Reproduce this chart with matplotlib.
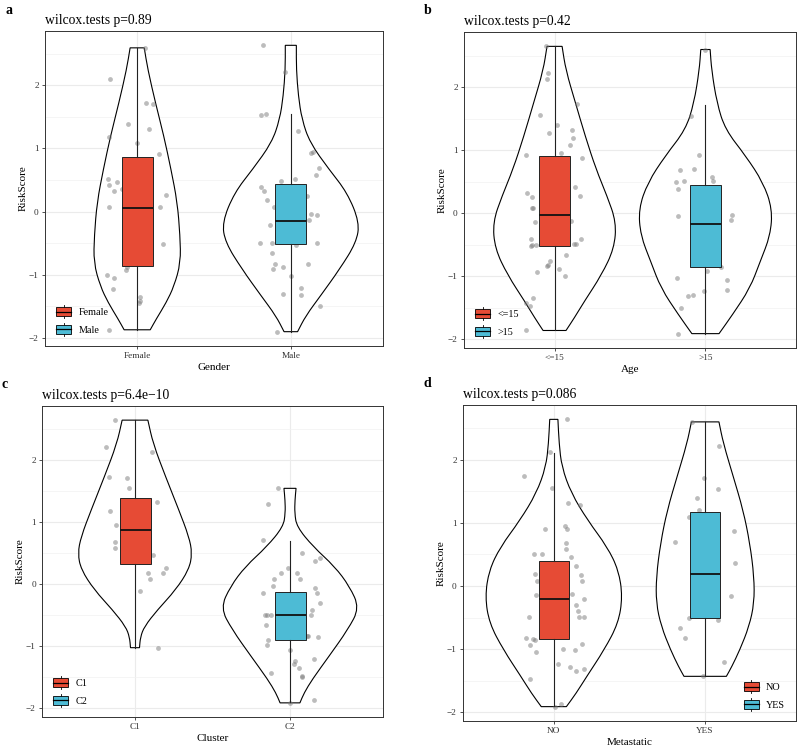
import matplotlib
matplotlib.use("Agg")
import matplotlib.pyplot as plt
import numpy as np
from matplotlib.patches import Patch, Rectangle, PathPatch
from matplotlib.path import Path
from matplotlib.lines import Line2D
from matplotlib.legend_handler import HandlerBase

plt.rcParams['font.family'] = ['Liberation Serif', 'DejaVu Serif']

red = '#E64B35'
blue = '#4DBBD5'

# ---- panel a : Gender ----
female_dx = [0.054, -0.179, 0.058, 0.106, -0.060, 0.076, -0.184, -0.004, 0.143, -0.192, -0.181, -0.130,
             -0.149, 0.188, -0.100, -0.184, 0.149, 0.166, -0.069, -0.076, -0.197, -0.151, -0.158, 0.019,
             0.013, 0.020, -0.186]
female_y = [2.59, 2.10, 1.72, 1.70, 1.39, 1.31, 1.18, 1.09, 0.91, 0.51, 0.42, 0.46,
            0.32, 0.26, 0.36, 0.08, 0.07, -0.51, -0.87, -0.93, -1.00, -1.05, -1.23, -1.35,
            -1.44, -1.42, -1.87]
female_box = [-1.87, -0.854, 0.063, 0.86, 2.59]  # whislo, q1, med, q3, whishi
female_vy = [2.59, 2.25, 1.72, 1.20, 0.67, 0.15, -0.38, -0.81, -1.18, -1.44, -1.70, -1.87]
female_vw = [0.046, 0.069, 0.119, 0.173, 0.220, 0.261, 0.279, 0.283, 0.240, 0.189, 0.124, 0.085]

male_dx = [-0.181, -0.041, -0.197, -0.160, 0.048, 0.134, 0.143, 0.181, 0.166, -0.065, 0.028, -0.194,
           -0.173, -0.156, -0.108, 0.108, 0.130, 0.173, 0.121, -0.134, -0.199, -0.123, 0.035, 0.168,
           -0.125, -0.104, -0.048, -0.119, 0.110, -0.002, 0.069, -0.054, 0.065, 0.190, -0.089]
male_y = [2.63, 2.21, 1.53, 1.55, 1.27, 0.92, 0.95, 0.69, 0.58, 0.48, 0.51, 0.39,
          0.32, 0.18, 0.08, 0.25, -0.04, -0.05, -0.13, -0.22, -0.49, -0.49, -0.53, -0.50,
          -0.66, -0.83, -0.88, -0.91, -0.83, -1.02, -1.21, -1.30, -1.32, -1.50, -1.90]
male_box = [-1.90, -0.51, -0.15, 0.43, 1.54]
male_vy = [2.63, 2.25, 1.83, 1.46, 1.09, 0.67, 0.30, -0.17, -0.49, -0.91, -1.33, -1.65, -1.90]
male_vw = [0.036, 0.036, 0.049, 0.072, 0.124, 0.248, 0.367, 0.447, 0.426, 0.318, 0.194, 0.097, 0.044]

# ---- panel b : Age ----
young_dx = [-0.057, -0.041, -0.052, 0.148, -0.096, 0.013, -0.039, 0.116, 0.122, 0.100, 0.044, 0.181,
            -0.188, -0.183, -0.148, 0.135, 0.166, -0.151, -0.144, -0.127, 0.109, -0.155, -0.151, -0.122,
            -0.157, 0.129, 0.140, 0.177, 0.079, -0.028, -0.050, -0.044, -0.114, 0.028, 0.070, -0.140,
            -0.192, -0.162, -0.186]
young_y = [2.65, 2.22, 2.13, 1.73, 1.56, 1.40, 1.28, 1.32, 1.19, 1.09, 0.96, 0.88,
           0.92, 0.33, 0.26, 0.42, 0.27, 0.08, 0.08, -0.14, -0.13, -0.40, -0.51, -0.50,
           -0.52, -0.48, -0.49, -0.40, -0.66, -0.76, -0.83, -0.82, -0.93, -0.88, -0.99, -1.35,
           -1.43, -1.47, -1.85]
young_box = [-1.86, -0.52, -0.03, 0.91, 2.65]
young_vy = [2.65, 2.27, 1.75, 1.22, 0.70, 0.28, -0.14, -0.56, -0.98, -1.40, -1.66, -1.86]
young_vw = [0.050, 0.075, 0.139, 0.204, 0.275, 0.347, 0.409, 0.395, 0.311, 0.197, 0.131, 0.076]

old_dx = [-0.004, -0.098, -0.044, -0.170, -0.076, 0.046, 0.048, -0.197, -0.142, -0.181, -0.181, 0.179,
          0.170, 0.100, 0.011, -0.186, 0.142, 0.146, -0.011, -0.116, -0.081, -0.162, -0.179]
old_y = [2.60, 1.54, 0.92, 0.68, 0.71, 0.58, 0.52, 0.49, 0.51, 0.38, -0.05, -0.03,
         -0.10, -0.86, -0.91, -1.02, -1.06, -1.21, -1.23, -1.32, -1.29, -1.50, -1.91]
old_box = [-1.91, -0.85, -0.163, 0.457, 1.72]
old_vy = [2.60, 2.27, 1.75, 1.33, 0.91, 0.49, 0.07, -0.35, -0.77, -1.19, -1.61, -1.91]
old_vw = [0.031, 0.041, 0.076, 0.131, 0.267, 0.382, 0.443, 0.430, 0.362, 0.295, 0.179, 0.090]

# ---- panel c : Cluster ----
c1_dx = [-0.132, -0.188, 0.111, -0.166, -0.049, -0.036, 0.141, -0.160, -0.122, -0.132, -0.130, 0.119,
         0.085, 0.200, 0.179, 0.096, 0.034, 0.151]
c1_y = [2.65, 2.22, 2.13, 1.74, 1.72, 1.56, 1.33, 1.19, 0.96, 0.69, 0.59, 0.47,
        0.18, 0.27, 0.18, 0.08, -0.11, -1.02]
c1_box = [-1.02, 0.33, 0.88, 1.40, 2.65]
c1_vy = [2.65, 2.27, 1.74, 1.20, 0.77, 0.50, 0.24, -0.09, -0.41, -0.68, -0.85, -1.02]
c1_vw = [0.083, 0.117, 0.197, 0.283, 0.348, 0.369, 0.348, 0.262, 0.145, 0.060, 0.035, 0.029]

c2_dx = [-0.077, -0.141, -0.175, 0.077, 0.194, 0.162, -0.013, -0.055, 0.043, -0.102, 0.064, -0.107,
         0.162, 0.171, -0.173, 0.192, 0.143, 0.134, -0.160, -0.149, -0.122, -0.154, 0.117, 0.107,
         0.179, -0.143, -0.147, -0.002, 0.032, 0.158, 0.023, 0.055, 0.075, 0.079, -0.122, 0.158, 0.002]
c2_y = [1.55, 1.29, 0.71, 0.51, 0.42, 0.38, 0.26, 0.19, 0.19, 0.09, 0.09, -0.03,
        -0.05, -0.13, -0.14, -0.30, -0.41, -0.49, -0.49, -0.49, -0.50, -0.65, -0.83, -0.83,
        -0.84, -0.89, -0.98, -1.05, -1.23, -1.21, -1.29, -1.35, -1.47, -1.50, -1.43, -1.86, -1.91]
c2_box = [-1.90, -0.895, -0.488, -0.118, 0.70]
c2_vy = [1.55, 1.36, 1.15, 0.93, 0.61, 0.29, -0.03, -0.38, -0.73, -1.16, -1.53, -1.75, -1.91]
c2_vw = [0.039, 0.032, 0.030, 0.044, 0.149, 0.288, 0.384, 0.448, 0.373, 0.251, 0.144, 0.091, 0.064]

# ---- panel d : Metastatic ----
no_dx = [0.087, -0.024, -0.194, -0.011, 0.092, 0.172, 0.076, 0.087, -0.059, 0.079, 0.079, -0.129,
         -0.076, 0.111, 0.146, 0.179, 0.188, -0.124, -0.111, 0.118, 0.201, -0.116, 0.146, 0.162,
         0.166, 0.201, -0.162, -0.183, -0.137, -0.124, -0.157, -0.116, 0.183, 0.059, 0.142, 0.026,
         0.105, 0.146, 0.199, -0.159, 0.050, 0.007]
no_y = [2.64, 2.13, 1.74, 1.56, 1.32, 1.28, 0.95, 0.91, 0.91, 0.68, 0.58, 0.51,
        0.51, 0.46, 0.32, 0.18, 0.08, 0.19, 0.08, -0.12, -0.20, -0.14, -0.30, -0.40,
        -0.49, -0.49, -0.49, -0.83, -0.84, -0.86, -0.93, -1.05, -0.92, -1.00, -1.02, -1.23,
        -1.29, -1.35, -1.32, -1.47, -1.87, -1.91]
no_box = [-1.90, -0.84, -0.20, 0.40, 2.11]
no_vy = [2.64, 2.26, 1.89, 1.47, 1.04, 0.62, 0.25, -0.17, -0.59, -1.01, -1.43, -1.70, -1.91]
no_vw = [0.027, 0.035, 0.052, 0.115, 0.224, 0.353, 0.428, 0.454, 0.426, 0.333, 0.218, 0.147, 0.083]

yes_dx = [-0.085, 0.092, -0.007, 0.087, -0.057, -0.044, -0.105, 0.192, -0.197, 0.194, 0.170, -0.107,
          0.083, -0.168, -0.135, 0.122, -0.017]
yes_y = [2.60, 2.22, 1.71, 1.54, 1.40, 1.20, 1.09, 0.87, 0.70, 0.37, -0.15, -0.50,
         -0.53, -0.66, -0.83, -1.21, -1.43]
yes_box = [-1.43, -0.50, 0.19, 1.18, 2.60]
yes_vy = [2.60, 2.26, 1.73, 1.20, 0.68, 0.15, -0.27, -0.64, -1.01, -1.28, -1.43]
yes_vw = [0.091, 0.120, 0.186, 0.251, 0.295, 0.323, 0.324, 0.290, 0.229, 0.175, 0.140]

panels = [
    dict(letter='a', title='wilcox.tests p=0.89', xlabel='Gender', cats=['Female', 'Male'],
         groups=[(female_dx, female_y, female_box, female_vy, female_vw),
                 (male_dx, male_y, male_box, male_vy, male_vw)],
         rect=[45, 31, 383, 346], legend='lower left'),
    dict(letter='b', title='wilcox.tests p=0.42', xlabel='Age', cats=['<=15', '>15'],
         groups=[(young_dx, young_y, young_box, young_vy, young_vw),
                 (old_dx, old_y, old_box, old_vy, old_vw)],
         rect=[464, 32, 796, 348], legend='lower left'),
    dict(letter='c', title='wilcox.tests p=6.4e\u221210', xlabel='Cluster', cats=['C1', 'C2'],
         groups=[(c1_dx, c1_y, c1_box, c1_vy, c1_vw),
                 (c2_dx, c2_y, c2_box, c2_vy, c2_vw)],
         rect=[42, 406, 383, 717], legend='lower left'),
    dict(letter='d', title='wilcox.tests p=0.086', xlabel='Metastatic', cats=['NO', 'YES'],
         groups=[(no_dx, no_y, no_box, no_vy, no_vw),
                 (yes_dx, yes_y, yes_box, yes_vy, yes_vw)],
         rect=[463, 405, 796, 721], legend='lower right'),
]
colors = [red, blue]


def rounded_side(xs, ys):
    # quadratic bezier through midpoints, using the read points as control points
    verts = [(xs[0], ys[0])]
    codes = [Path.LINETO]
    for k in range(1, len(xs) - 1):
        mx, my = (xs[k] + xs[k + 1]) / 2, (ys[k] + ys[k + 1]) / 2
        if k == 1:
            verts.append(((xs[0] + xs[1]) / 2, (ys[0] + ys[1]) / 2))
            codes.append(Path.LINETO)
        verts += [(xs[k], ys[k]), (mx, my)]
        codes += [Path.CURVE3, Path.CURVE3]
    verts.append((xs[-1], ys[-1]))
    codes.append(Path.LINETO)
    return verts, codes


def violin_path(c, vy, vw):
    vy = np.asarray(vy)
    vw = np.asarray(vw)
    lv, lc = rounded_side(c - vw, vy)
    rv, rc = rounded_side((c + vw)[::-1], vy[::-1])
    verts = lv + rv + [lv[0]]
    codes = [Path.MOVETO] + lc[1:] + rc + [Path.CLOSEPOLY]
    return Path(verts, codes)


class BoxKey(HandlerBase):
    def create_artists(self, legend, orig_handle, xdescent, ydescent, width, height, fontsize, trans):
        x0, y0 = -xdescent, -ydescent
        fc = orig_handle.get_facecolor()
        wl = Line2D([x0 + width / 2] * 2, [y0 - 0.2 * height, y0 + 1.2 * height],
                    color='black', lw=0.6, transform=trans)
        box = Rectangle((x0, y0), width, height, facecolor=fc, edgecolor='black',
                        lw=0.6, transform=trans)
        med = Line2D([x0, x0 + width], [y0 + height / 2] * 2, color='black', lw=0.9, transform=trans)
        return [wl, box, med]


W, H = 800, 747
fig = plt.figure(figsize=(W / 100, H / 100), dpi=100)

for p in panels:
    l, t, r, b = p['rect']
    ax = fig.add_axes([l / W, 1 - b / H, (r - l) / W, (b - t) / H])
    ymin = min(min(g[3]) for g in p['groups'])
    ymax = max(max(g[3]) for g in p['groups'])
    pad = (ymax - ymin) * 0.05
    ax.set_ylim(ymin - pad, ymax + pad)
    ax.set_xlim(0.4, 2.6)

    for i, (dx, y, bx, vy, vw) in enumerate(p['groups']):
        c = i + 1
        ax.add_patch(PathPatch(violin_path(c, vy, vw), facecolor='white', edgecolor='black',
                               lw=0.8, zorder=2))
        ax.scatter(c + np.array(dx), y, s=12, color='#7a7a7a', alpha=0.5, lw=0, zorder=3)
        stats = [dict(whislo=bx[0], q1=bx[1], med=bx[2], q3=bx[3], whishi=bx[4], fliers=[])]
        ax.bxp(stats, positions=[c], widths=0.2, patch_artist=True, showcaps=False,
               boxprops=dict(facecolor=colors[i], edgecolor='#222222', lw=0.7),
               medianprops=dict(color='#111111', lw=1.3),
               whiskerprops=dict(color='#222222', lw=0.8),
               zorder=4, manage_ticks=False)

    ax.set_xticks([1, 2])
    ax.set_xticklabels(p['cats'])
    ax.set_yticks([-2, -1, 0, 1, 2])
    ax.set_yticks([-1.5, -0.5, 0.5, 1.5, 2.5], minor=True)
    ax.grid(True, which='major', color='#EBEBEB', lw=0.8, zorder=0)
    ax.grid(True, which='minor', axis='y', color='#F2F2F2', lw=0.5, zorder=0)
    ax.set_axisbelow(True)
    ax.tick_params(which='major', length=2.5, width=0.6, color='#333333', labelsize=6.7,
                   labelcolor='#333333', pad=2)
    ax.tick_params(which='minor', length=0)
    for s in ax.spines.values():
        s.set_color('#333333')
        s.set_linewidth(0.7)
    ax.set_xlabel(p['xlabel'], fontsize=8, labelpad=2)
    ax.set_ylabel('RiskScore', fontsize=8, labelpad=1)
    ax.set_title(p['title'], loc='left', fontsize=9.8, pad=5)
    fig.text((l - 40) / W, 1 - (t - 21) / H, p['letter'], fontsize=10, fontweight='bold',
             ha='left', va='center')

    handles = [Patch(facecolor=colors[0]), Patch(facecolor=colors[1])]
    ax.legend(handles, p['cats'], loc=p['legend'], frameon=False, fontsize=7.3,
              handler_map={Patch: BoxKey()}, handlelength=1.5, handleheight=1.0,
              labelspacing=0.75, handletextpad=0.7, borderaxespad=0.7)

fig.savefig('out.png', dpi=100)
